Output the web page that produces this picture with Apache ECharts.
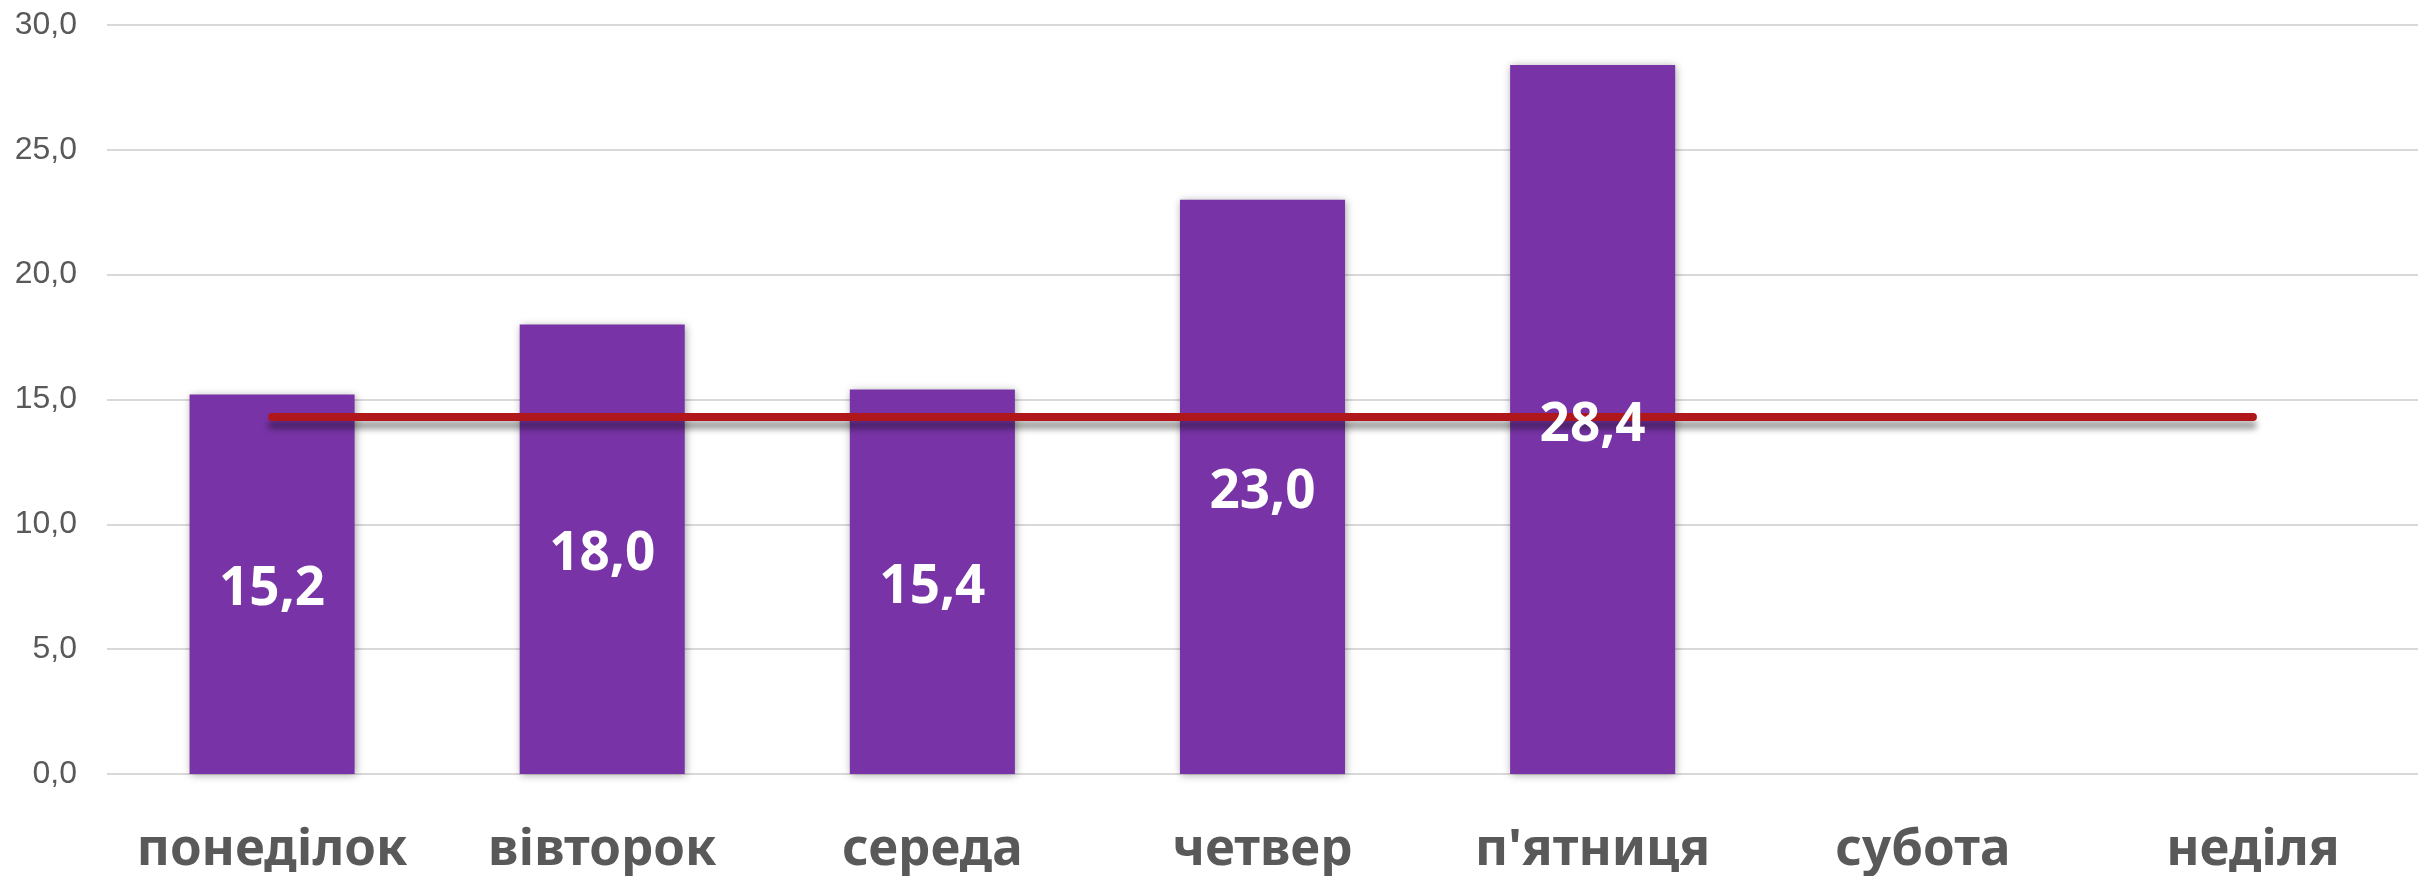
<!DOCTYPE html>
<html>
<head>
<meta charset="utf-8">
<script src="https://cdn.jsdelivr.net/npm/echarts@6/dist/echarts.min.js"></script>
<style>
  html, body { margin: 0; padding: 0; background: #ffffff; }
  #chart { width: 2418px; height: 876px; }
</style>
</head>
<body>
<div id="chart"></div>
<script>
// Days of the week
const days = ['понеділок', 'вівторок', 'середа', 'четвер', "п'ятниця", 'субота', 'неділя'];
// Daily values (weekend has no data)
const dailyValues = [15.2, 18.0, 15.4, 23.0, 28.4, null, null];
// Weekly average level
const averageValues = [14.3, 14.3, 14.3, 14.3, 14.3, 14.3, 14.3];
// Value axis scale
const yMin = 0, yMax = 30, yStep = 5;

const fmt = v => v.toFixed(1).replace('.', ',');

const chart = echarts.init(document.getElementById('chart'), null, { renderer: 'canvas' });
chart.setOption({
  animation: false,
  backgroundColor: '#ffffff',
  grid: { left: 107, right: 0, top: 25, bottom: 99, containLabel: false },
  xAxis: {
    type: 'category',
    data: days,
    axisLine: { show: false },
    axisTick: { show: false },
    axisLabel: {
      color: '#595959',
      fontFamily: 'Noto Sans',
      fontWeight: 'bold',
      fontSize: 51,
      margin: 51,
      interval: 0
    }
  },
  yAxis: {
    type: 'value',
    min: yMin,
    max: yMax,
    interval: yStep,
    axisLine: { show: false },
    axisTick: { show: false },
    axisLabel: {
      color: '#595959',
      fontFamily: 'Liberation Sans',
      fontSize: 32,
      margin: 30,
      formatter: fmt
    },
    splitLine: { lineStyle: { color: '#d9d9d9', width: 2 } }
  },
  series: [
    {
      type: 'bar',
      data: dailyValues,
      barWidth: '50%',
      z: 2,
      itemStyle: {
        color: '#7834A6',
        shadowColor: 'rgba(0,0,0,0.35)',
        shadowBlur: 8,
        shadowOffsetX: 1,
        shadowOffsetY: 1
      },
      label: { show: false }
    },
    {
      type: 'line',
      data: averageValues,
      z: 3,
      symbol: 'none',
      lineStyle: {
        color: '#B0171B',
        width: 8,
        cap: 'round',
        shadowColor: 'rgba(0,0,0,0.4)',
        shadowBlur: 6,
        shadowOffsetY: 8
      }
    },
    {
      // value labels drawn above the average line
      type: 'bar',
      data: dailyValues,
      barWidth: '50%',
      barGap: '-100%',
      z: 4,
      itemStyle: { color: 'rgba(0,0,0,0)' },
      label: {
        show: true,
        position: 'inside',
        offset: [0, 6],
        color: '#ffffff',
        fontFamily: 'Noto Sans',
        fontWeight: 'bold',
        fontSize: 53,
        formatter: p => fmt(p.value)
      }
    }
  ]
});
</script>
</body>
</html>
